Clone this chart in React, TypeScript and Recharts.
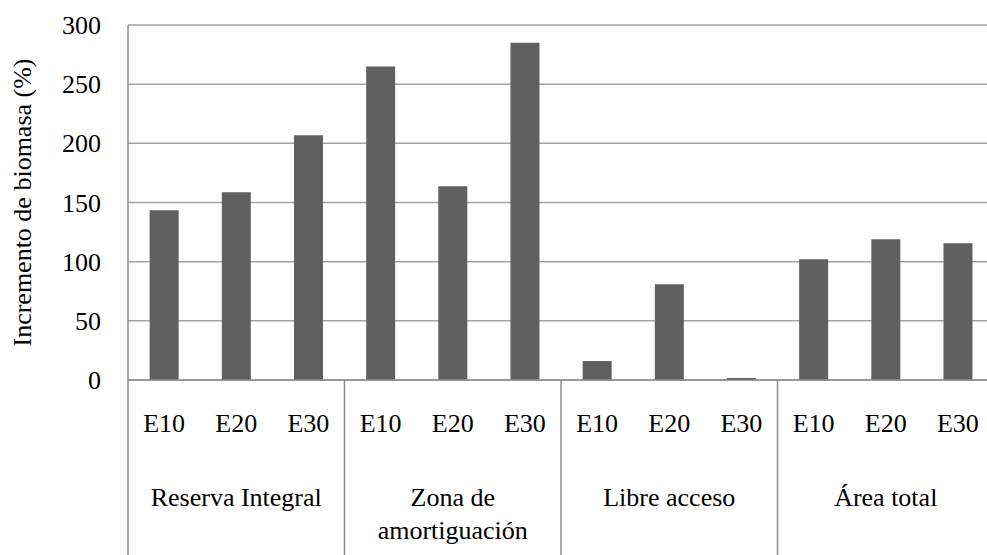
import { BarChart, Bar, XAxis, YAxis, CartesianGrid } from 'recharts';

const groups = ['Reserva Integral', 'Zona de\namortiguación', 'Libre acceso', 'Área total'];
const levels = ['E10', 'E20', 'E30'];
const reservaIntegral = [143.5, 158.6, 206.8];
const zonaAmortiguacion = [265, 163.7, 285];
const libreAcceso = [16, 81, 1.7];
const areaTotal = [102, 119, 115.6];
const yTicks = [0, 50, 100, 150, 200, 250, 300];
const yTitle = 'Incremento de biomasa (%)';

const seriesByGroup = [reservaIntegral, zonaAmortiguacion, libreAcceso, areaTotal];

const data = groups.flatMap((g, gi) =>
  levels.map((lvl, li) => ({
    key: `${gi}-${lvl}`,
    level: lvl,
    group: g,
    value: seriesByGroup[gi][li],
  }))
);

const LINE = '#8c8c8c';
const txt = { fontFamily: 'Liberation Serif', fontSize: 26 };

const CategoryTick = (props: any) => {
  const { x, y, payload, index } = props;
  const i = typeof index === 'number' ? index : payload.index;
  const half = payload.offset ?? 0;
  const row = data[i];
  const lines = row ? row.group.split('\n') : [];

  return (
    <g>
      <text x={x} y={y + 52} textAnchor="middle" fill="#000" style={txt}>
        {row?.level}
      </text>
      {i % 3 === 1 &&
        lines.map((t: string, k: number) => (
          <text key={k} x={x} y={y + 126 + k * 33} textAnchor="middle" fill="#000" style={txt}>
            {t}
          </text>
        ))}
      {i % 3 === 0 && <line x1={x - half} x2={x - half} y1={y} y2={y + 175} stroke={LINE} strokeWidth={1.5} />}
      {i === data.length - 1 && <line x1={x + half} x2={x + half} y1={y} y2={y + 175} stroke={LINE} strokeWidth={1.5} />}
    </g>
  );
};

const ValueTick = (props: any) => {
  const { x, y, payload } = props;
  return (
    <text x={x} y={y} dy={9} textAnchor="end" fill="#000" style={txt}>
      {payload.value}
    </text>
  );
};

const YTitle = (props: any) => {
  const vb = props.viewBox || {};
  const cy = (vb.y ?? 0) + (vb.height ?? 0) / 2;
  return (
    <text x={22} y={cy} transform={`rotate(-90, 22, ${cy})`} dy={9} textAnchor="middle" fill="#000" style={txt}>
      {yTitle}
    </text>
  );
};

export default function App() {
  return (
    <div style={{ position: 'absolute', left: 0, top: 0, width: 987, height: 555, overflow: 'hidden', background: '#fff' }}>
      <BarChart
        width={1012}
        height={555}
        data={data}
        margin={{ top: 25, right: 18, left: 0, bottom: 0 }}
        barCategoryGap="30%"
      >
        <CartesianGrid vertical={false} stroke="#a3a3a3" strokeWidth={1.5} />
        <XAxis
          dataKey="key"
          height={175}
          interval={0}
          tickLine={false}
          tickSize={0}
          tickMargin={0}
          axisLine={{ stroke: LINE, strokeWidth: 1.5 }}
          tick={<CategoryTick />}
        />
        <YAxis
          width={128}
          domain={[0, 300]}
          ticks={yTicks}
          interval={0}
          tickLine={false}
          tickSize={0}
          tickMargin={27}
          axisLine={{ stroke: LINE, strokeWidth: 1.5 }}
          tick={<ValueTick />}
          label={<YTitle />}
        />
        <Bar dataKey="value" fill="#606060" isAnimationActive={false} />
      </BarChart>
    </div>
  );
}
